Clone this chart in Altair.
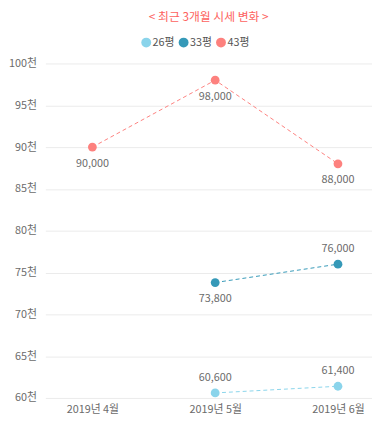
import altair as alt
import pandas as pd

months = ["2019년 4월", "2019년 5월", "2019년 6월"]
series = ["26평", "33평", "43평"]
colors = ["#8AD4EB", "#3599B8", "#FD817E"]
values_26 = [None, 60600, 61400]
values_33 = [None, 73800, 76000]
values_43 = [90000, 98000, 88000]

rows = []
for s, vals in zip(series, [values_26, values_33, values_43]):
    for m, v in zip(months, vals):
        if v is not None:
            rows.append({"month": m, "series": s, "value": v})
df = pd.DataFrame(rows)

font = "Noto Sans CJK KR"
gray = "#6b6b6b"

x = alt.X("month:N", sort=months, title=None,
          scale=alt.Scale(type="point", padding=0.33, align=0.58),
          axis=alt.Axis(labelAngle=0, labelColor=gray, labelFontSize=11,
                        labelFont=font, ticks=False, domain=False, grid=False, labelPadding=6))
y = alt.Y("value:Q", title=None,
          scale=alt.Scale(domain=[60000, 100000], nice=False, zero=False),
          axis=alt.Axis(values=list(range(60000, 100001, 5000)),
                        labelExpr="datum.value / 1000 + '천'",
                        labelColor=gray, labelFontSize=11, labelFont=font,
                        ticks=False, domain=False, gridColor="#EBEBEB", labelPadding=9))
color = alt.Color("series:N", sort=series,
                  scale=alt.Scale(domain=series, range=colors),
                  legend=alt.Legend(title=None, orient="none", direction="horizontal",
                                    legendX=97, legendY=-27,
                                    symbolType="circle", symbolSize=100, symbolOpacity=1,
                                    labelFont=font, labelFontSize=11, labelColor="#555555",
                                    columnPadding=3, labelOffset=1, symbolStrokeWidth=0))

base = alt.Chart(df).encode(x=x, y=y, color=color)

lines = base.mark_line(strokeDash=[4, 3], strokeWidth=1)
points = base.mark_point(filled=True, size=80, opacity=1)

above_expr = "(datum.series == '26평') || (datum.series == '33평' && datum.month == '2019년 6월')"
labels_above = base.transform_filter(above_expr).mark_text(
    dy=-15, font=font, fontSize=11).encode(
    text=alt.Text("value:Q", format=",.0f"), color=alt.value(gray))
labels_below = base.transform_filter("!(" + above_expr + ")").mark_text(
    dy=17, font=font, fontSize=11).encode(
    text=alt.Text("value:Q", format=",.0f"), color=alt.value(gray))

chart = alt.layer(lines, points, labels_above, labels_below).properties(
    width=332, height=340,
    padding={"left": 0, "top": 0, "right": 0, "bottom": 0},
    title=alt.TitleParams("< 최근 3개월 시세 변화 >", color="#FD625E", fontSize=12,
                          font=font, fontWeight="normal", anchor="middle", offset=13),
).configure_view(stroke=None)

chart.save("out.html", embed_options={"renderer": "svg", "actions": False})
